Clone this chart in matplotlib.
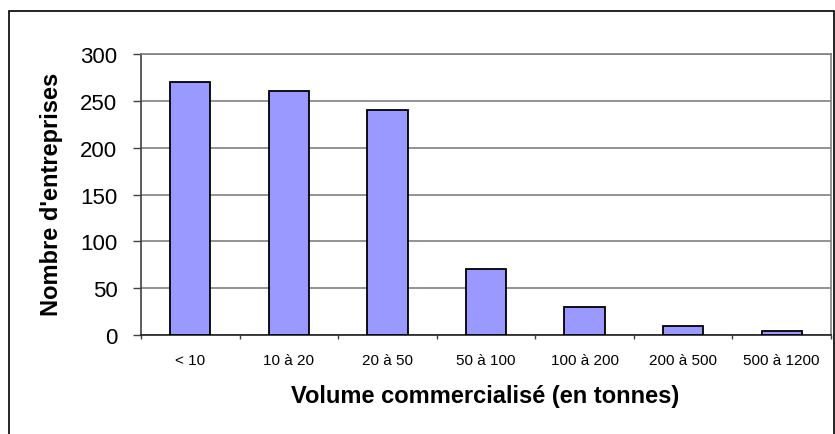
import numpy as np
import matplotlib
matplotlib.use("Agg")
import matplotlib.pyplot as plt
from matplotlib.patches import Rectangle

plt.rcParams['font.family'] = ['Liberation Sans', 'DejaVu Sans']

categories = ['< 10', '10 à 20', '20 à 50', '50 à 100', '100 à 200', '200 à 500', '500 à 1200']
counts = [270, 260, 240, 70, 30, 10, 4]
y_ticks = [0, 50, 100, 150, 200, 250, 300]

bar_color = '#9999FF'
grid_color = '#808080'

fig = plt.figure(figsize=(8.35, 4.35), dpi=100)
ax = fig.add_axes([141/835, 1-336/435, 690/835, 281/435])

x = np.arange(len(categories))
ax.bar(x, counts, width=0.41, color=bar_color, edgecolor='black', linewidth=1.3, zorder=3)

ax.set_xlim(-0.5, len(categories) - 0.5)
ax.set_ylim(0, 300)
ax.set_yticks(y_ticks)
ax.set_yticklabels([str(v) for v in y_ticks], fontsize=16)
ax.yaxis.grid(True, color=grid_color, linewidth=1.2, zorder=0)
ax.tick_params(axis='y', direction='out', length=6, width=1, color='#404040', pad=11)

ax.set_xticks(x)
ax.set_xticklabels(categories, fontsize=11)
ax.set_xticks(np.arange(-0.5, len(categories)), minor=True)
ax.tick_params(axis='x', which='major', length=0, pad=13)
ax.tick_params(axis='x', which='minor', direction='out', length=3, width=1, color='#404040')

for side in ['top', 'right']:
    ax.spines[side].set_color(grid_color)
    ax.spines[side].set_linewidth(1.2)
ax.spines['left'].set_color('#404040')
ax.spines['bottom'].set_color('#202020')
ax.spines['left'].set_linewidth(1.2)
ax.spines['bottom'].set_linewidth(1.2)

ax.set_xlabel('Volume commercialisé (en tonnes)', fontsize=17, fontweight='bold')
ax.xaxis.label.set_va('center')
ax.xaxis.set_label_coords(0.4986, -0.217)
ax.set_ylabel("Nombre d'entreprises", fontsize=17, fontweight='bold')
ax.yaxis.label.set_va('center')
ax.yaxis.set_label_coords(-0.129, 0.505)

# chart area border
fig.patches.append(Rectangle((9/835, -0.05), 825/835, 1.05 - 12/435, transform=fig.transFigure,
                             fill=False, edgecolor='black', linewidth=1.2))

fig.savefig('out.png', dpi=100)
